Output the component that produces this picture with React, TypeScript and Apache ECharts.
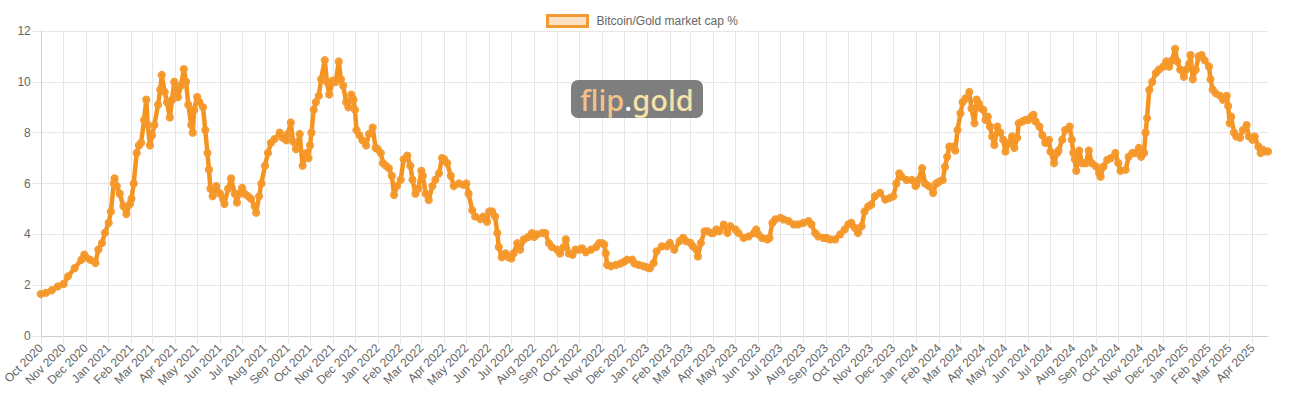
import React, { useEffect, useRef } from "react";
import * as echarts from "echarts";

const seriesName = "Bitcoin/Gold market cap %";
const startDate = "2020-10-01";
const endDate = "2025-04-22";
const monthNames = ["Jan", "Feb", "Mar", "Apr", "May", "Jun", "Jul", "Aug", "Sep", "Oct", "Nov", "Dec"];
const yMin = 0;
const yMax = 12;
const yStep = 2;

const readingDates = [
  "2020-10-01", "2020-10-08", "2020-10-16", "2020-10-24",
  "2020-11-01", "2020-11-07", "2020-11-16", "2020-11-25", "2020-11-29",
  "2020-12-01", "2020-12-07", "2020-12-14", "2020-12-18", "2020-12-23", "2020-12-27",
  "2021-01-01", "2021-01-04", "2021-01-08", "2021-01-09", "2021-01-12", "2021-01-16", "2021-01-21", "2021-01-25", "2021-01-30",
  "2021-02-01", "2021-02-04", "2021-02-08", "2021-02-11", "2021-02-14", "2021-02-18", "2021-02-21", "2021-02-23", "2021-02-26",
  "2021-03-01", "2021-03-04", "2021-03-09", "2021-03-12", "2021-03-14", "2021-03-18", "2021-03-21", "2021-03-25", "2021-03-28", "2021-03-31",
  "2021-04-01", "2021-04-05", "2021-04-09", "2021-04-13", "2021-04-16", "2021-04-19", "2021-04-23", "2021-04-25", "2021-04-27",
  "2021-05-01", "2021-05-04", "2021-05-09", "2021-05-12", "2021-05-15", "2021-05-17", "2021-05-19", "2021-05-22", "2021-05-27",
  "2021-06-01", "2021-06-05", "2021-06-07", "2021-06-12", "2021-06-16", "2021-06-21", "2021-06-24", "2021-06-27",
  "2021-07-01", "2021-07-04", "2021-07-09", "2021-07-13", "2021-07-18", "2021-07-20", "2021-07-24", "2021-07-27",
  "2021-08-01", "2021-08-05", "2021-08-09", "2021-08-14", "2021-08-21", "2021-08-25", "2021-08-30",
  "2021-09-01", "2021-09-05", "2021-09-08", "2021-09-12", "2021-09-17", "2021-09-21", "2021-09-26", "2021-09-29",
  "2021-10-01", "2021-10-03", "2021-10-06", "2021-10-09", "2021-10-13", "2021-10-16", "2021-10-21", "2021-10-24", "2021-10-27",
  "2021-11-01", "2021-11-05", "2021-11-09", "2021-11-12", "2021-11-15", "2021-11-19", "2021-11-22", "2021-11-26", "2021-11-29",
  "2021-12-01", "2021-12-03", "2021-12-07", "2021-12-11", "2021-12-16", "2021-12-20", "2021-12-25", "2021-12-29",
  "2022-01-01", "2022-01-05", "2022-01-08", "2022-01-12", "2022-01-16", "2022-01-20", "2022-01-23", "2022-01-27",
  "2022-02-01", "2022-02-05", "2022-02-10", "2022-02-14", "2022-02-17", "2022-02-21", "2022-02-25",
  "2022-03-01", "2022-03-03", "2022-03-07", "2022-03-11", "2022-03-16", "2022-03-20", "2022-03-25", "2022-03-29",
  "2022-04-01", "2022-04-05", "2022-04-10", "2022-04-14", "2022-04-21", "2022-04-27",
  "2022-05-01", "2022-05-04", "2022-05-09", "2022-05-13", "2022-05-20", "2022-05-24", "2022-05-29",
  "2022-06-01", "2022-06-05", "2022-06-09", "2022-06-12", "2022-06-14", "2022-06-18", "2022-06-23", "2022-06-27",
  "2022-07-01", "2022-07-04", "2022-07-09", "2022-07-13", "2022-07-18", "2022-07-24", "2022-07-29",
  "2022-08-01", "2022-08-05", "2022-08-12", "2022-08-16", "2022-08-21", "2022-08-25",
  "2022-09-01", "2022-09-05", "2022-09-10", "2022-09-13", "2022-09-17", "2022-09-22", "2022-09-26",
  "2022-10-01", "2022-10-05", "2022-10-10", "2022-10-17", "2022-10-24", "2022-10-28",
  "2022-11-01", "2022-11-04", "2022-11-06", "2022-11-08", "2022-11-13", "2022-11-20", "2022-11-26",
  "2022-12-01", "2022-12-05", "2022-12-12", "2022-12-15", "2022-12-21", "2022-12-27",
  "2023-01-01", "2023-01-05", "2023-01-10", "2023-01-14", "2023-01-21", "2023-01-28",
  "2023-02-01", "2023-02-07", "2023-02-14", "2023-02-19", "2023-02-23",
  "2023-03-01", "2023-03-04", "2023-03-09", "2023-03-11", "2023-03-15", "2023-03-20", "2023-03-24", "2023-03-29",
  "2023-04-01", "2023-04-05", "2023-04-09", "2023-04-15", "2023-04-20", "2023-04-24",
  "2023-05-01", "2023-05-05", "2023-05-12", "2023-05-19", "2023-05-26", "2023-05-29",
  "2023-06-01", "2023-06-06", "2023-06-13", "2023-06-16", "2023-06-20", "2023-06-24",
  "2023-07-01", "2023-07-05", "2023-07-12", "2023-07-19", "2023-07-25",
  "2023-08-01", "2023-08-08", "2023-08-12", "2023-08-17", "2023-08-21", "2023-08-28",
  "2023-09-01", "2023-09-06", "2023-09-13", "2023-09-20", "2023-09-26",
  "2023-10-01", "2023-10-05", "2023-10-10", "2023-10-14", "2023-10-19", "2023-10-23", "2023-10-28",
  "2023-11-01", "2023-11-06", "2023-11-13", "2023-11-20", "2023-11-26",
  "2023-12-01", "2023-12-05", "2023-12-09", "2023-12-12", "2023-12-19", "2023-12-26", "2023-12-31",
  "2024-01-01", "2024-01-04", "2024-01-09", "2024-01-13", "2024-01-18", "2024-01-24", "2024-01-28",
  "2024-02-01", "2024-02-06", "2024-02-09", "2024-02-12", "2024-02-15", "2024-02-20", "2024-02-23", "2024-02-26",
  "2024-03-01", "2024-03-04", "2024-03-08", "2024-03-13", "2024-03-16", "2024-03-20", "2024-03-23", "2024-03-26", "2024-03-29",
  "2024-04-01", "2024-04-04", "2024-04-07", "2024-04-10", "2024-04-13", "2024-04-16", "2024-04-20", "2024-04-24", "2024-04-28",
  "2024-05-01", "2024-05-06", "2024-05-10", "2024-05-13", "2024-05-17", "2024-05-19", "2024-05-24", "2024-05-28",
  "2024-06-01", "2024-06-05", "2024-06-08", "2024-06-11", "2024-06-16", "2024-06-20", "2024-06-24", "2024-06-29",
  "2024-07-01", "2024-07-06", "2024-07-10", "2024-07-12", "2024-07-17", "2024-07-21", "2024-07-27", "2024-07-30",
  "2024-08-01", "2024-08-03", "2024-08-05", "2024-08-09", "2024-08-13", "2024-08-18", "2024-08-22", "2024-08-26",
  "2024-09-01", "2024-09-05", "2024-09-07", "2024-09-11", "2024-09-16", "2024-09-21", "2024-09-27",
  "2024-10-01", "2024-10-04", "2024-10-11", "2024-10-15", "2024-10-20", "2024-10-24", "2024-10-29",
  "2024-11-01", "2024-11-05", "2024-11-07", "2024-11-09", "2024-11-12", "2024-11-16", "2024-11-21", "2024-11-25",
  "2024-12-01", "2024-12-05", "2024-12-09", "2024-12-13", "2024-12-17", "2024-12-20", "2024-12-24", "2024-12-29",
  "2025-01-01", "2025-01-05", "2025-01-07", "2025-01-10", "2025-01-14", "2025-01-18", "2025-01-22", "2025-01-26",
  "2025-02-01", "2025-02-03", "2025-02-06", "2025-02-10", "2025-02-16", "2025-02-20", "2025-02-25", "2025-02-27",
  "2025-03-01", "2025-03-03", "2025-03-07", "2025-03-10", "2025-03-15", "2025-03-19", "2025-03-24", "2025-03-27",
  "2025-04-01", "2025-04-04", "2025-04-09", "2025-04-12", "2025-04-15", "2025-04-18", "2025-04-22",
];

const ratioValues = [
  1.65, 1.7, 1.8, 1.95,
  2.05, 2.35, 2.67, 3.0, 3.2,
  3.1, 3.0, 2.87, 3.4, 3.66, 4.06,
  4.45, 4.9, 6.0, 6.2, 5.9, 5.6, 5.1, 4.8, 5.2,
  5.4, 6.0, 7.2, 7.5, 7.6, 8.5, 9.3, 8.3, 7.5,
  7.9, 8.3, 9.1, 9.7, 10.27, 9.6, 9.2, 8.6, 9.3, 10.0,
  9.7, 9.4, 9.85, 10.5, 10.0, 9.1, 8.3, 8.0, 8.9,
  9.4, 9.2, 9.0, 8.1, 7.2, 6.55, 5.8, 5.5, 5.9,
  5.6, 5.4, 5.2, 5.8, 6.2, 5.6, 5.25, 5.6,
  5.83, 5.6, 5.5, 5.4, 5.1, 4.85, 5.5, 6.0,
  6.7, 7.2, 7.6, 7.75, 8.0, 7.8, 7.7,
  7.95, 8.4, 7.65, 7.35, 7.95, 6.7, 7.2, 7.0,
  7.5, 8.0, 8.9, 9.2, 9.45, 10.1, 10.85, 10.0, 9.5,
  10.05, 10.0, 10.8, 10.1, 9.85, 9.2, 9.0, 9.5, 9.3,
  8.9, 8.1, 7.9, 7.7, 7.5, 7.95, 8.2, 7.4,
  7.35, 7.2, 6.8, 6.7, 6.6, 6.3, 5.55, 5.9,
  6.15, 6.95, 7.1, 6.7, 6.15, 5.6, 5.8,
  6.5, 6.3, 5.6, 5.35, 5.9, 6.15, 6.4, 7.0,
  6.95, 6.8, 6.3, 5.9, 6.0, 5.95,
  6.0, 5.6, 4.95, 4.7, 4.6, 4.7, 4.5,
  4.9, 4.9, 4.7, 4.05, 3.5, 3.1, 3.25, 3.1,
  3.05, 3.25, 3.65, 3.4, 3.8, 3.9, 4.05,
  3.9, 4.0, 4.05, 4.05, 3.65, 3.5,
  3.4, 3.25, 3.5, 3.8, 3.25, 3.2, 3.4,
  3.4, 3.45, 3.3, 3.4, 3.5, 3.65,
  3.65, 3.6, 3.25, 2.8, 2.75, 2.8, 2.85,
  2.92, 3.0, 3.0, 2.85, 2.8, 2.75,
  2.7, 2.67, 2.87, 3.33, 3.53, 3.53,
  3.66, 3.4, 3.73, 3.86, 3.73,
  3.66, 3.53, 3.4, 3.13, 3.66, 4.12, 4.12, 4.05,
  4.05, 4.19, 4.12, 4.38, 4.05, 4.32,
  4.19, 4.05, 3.86, 3.92, 4.05, 4.19,
  4.0, 3.86, 3.8, 3.86, 4.45, 4.59,
  4.65, 4.59, 4.52, 4.39, 4.39,
  4.45, 4.52, 4.39, 4.05, 3.92, 3.86,
  3.86, 3.8, 3.8, 4.0, 4.19,
  4.39, 4.45, 4.25, 4.05, 4.32, 4.9, 5.1,
  5.17, 5.5, 5.63, 5.37, 5.43,
  5.5, 6.0, 6.4, 6.27, 6.14, 6.14, 5.9,
  5.95, 6.14, 6.6, 6.0, 5.9, 5.63, 6.0,
  6.07, 6.14, 6.66, 7.05, 7.45, 7.45, 7.3, 8.1,
  8.76, 9.2, 9.35, 9.6, 8.95, 8.37, 9.3, 9.15, 8.95,
  8.9, 8.5, 8.63, 8.24, 7.85, 7.52, 8.24, 8.0, 7.72,
  7.26, 7.6, 7.85, 7.4, 7.8, 8.37, 8.44, 8.5,
  8.5, 8.63, 8.7, 8.44, 8.24, 7.9, 7.6, 7.72,
  7.26, 6.8, 7.2, 7.3, 7.72, 8.1, 8.24, 7.72,
  7.2, 6.95, 6.5, 7.3, 6.8, 6.8, 7.3, 6.8,
  6.67, 6.4, 6.27, 6.67, 6.93, 7.0, 7.2,
  6.8, 6.5, 6.54, 7.05, 7.2, 7.2, 7.4,
  7.05, 7.2, 8.0, 8.57, 9.68, 10.0, 10.35, 10.48,
  10.6, 10.8, 10.6, 10.85, 11.3, 10.8, 10.48, 10.2,
  10.48, 10.7, 11.05, 10.1, 10.48, 11.0, 11.05, 10.85,
  10.6, 10.1, 9.7, 9.55, 9.45, 9.3, 9.45, 9.05,
  8.37, 8.63, 8.0, 7.85, 7.8, 8.1, 8.3, 7.85,
  7.72, 7.85, 7.45, 7.2, 7.33, 7.26, 7.26,
];

function buildDayCategories(): string[] {
  const out: string[] = [];
  const [sy, sm, sd] = startDate.split("-").map(Number);
  const [ey, em, ed] = endDate.split("-").map(Number);
  const end = Date.UTC(ey, em - 1, ed);
  for (let t = Date.UTC(sy, sm - 1, sd); t <= end; t += 86400000) {
    out.push(new Date(t).toISOString().slice(0, 10));
  }
  return out;
}

const isMonthStart = (_i: number, v: string) => typeof v === "string" && v.endsWith("-01");
const monthLabel = (v: string) => {
  const [y, m] = v.split("-");
  return monthNames[Number(m) - 1] + " " + y;
};

export default function App() {
  const ref = useRef<HTMLDivElement>(null);

  useEffect(() => {
    document.body.style.margin = "0";
    if (!ref.current) return;
    const chart = echarts.init(ref.current, null, { renderer: "svg" });
    const categories = buildDayCategories();
    const lookup = new Map<string, number>();
    readingDates.forEach((d, i) => lookup.set(d, ratioValues[i]));
    const seriesData = categories.map((c) => (lookup.has(c) ? lookup.get(c)! : null));

    const font = "'Liberation Sans', Arial, Helvetica, sans-serif";
    const logoFont = "'Noto Sans', 'Open Sans', sans-serif";
    const gridColor = "#e6e6e6";

    chart.setOption({
      animation: false,
      backgroundColor: "#ffffff",
      textStyle: { fontFamily: font },
      legend: {
        left: 541,
        top: 9,
        icon: "rect",
        itemWidth: 40,
        itemHeight: 11,
        itemStyle: { color: "#fde1c3", borderColor: "#f39a35", borderWidth: 3 },
        textStyle: { color: "#666666", fontSize: 12, fontFamily: font, padding: [0, 0, 0, 4] },
        data: [{ name: seriesName, icon: "rect" }],
      },
      grid: { left: 35, right: 38, top: 31, bottom: 63, containLabel: false },
      xAxis: {
        type: "category",
        data: categories,
        boundaryGap: false,
        axisLine: { show: true, lineStyle: { color: "#cfcfcf", width: 1 } },
        axisTick: { show: true, length: 8, interval: isMonthStart, lineStyle: { color: gridColor } },
        axisLabel: {
          interval: isMonthStart,
          rotate: 45,
          formatter: monthLabel,
          color: "#666666",
          fontSize: 12,
          fontFamily: font,
          margin: 10,
        },
        splitLine: { show: true, interval: isMonthStart, lineStyle: { color: gridColor, width: 1 } },
      },
      yAxis: {
        type: "value",
        min: yMin,
        max: yMax,
        interval: yStep,
        axisLine: { show: true, lineStyle: { color: "#cfcfcf", width: 1 } },
        axisTick: { show: true, length: 8, lineStyle: { color: gridColor } },
        axisLabel: { color: "#666666", fontSize: 12, fontFamily: font, margin: 10 },
        splitLine: { show: true, lineStyle: { color: gridColor, width: 1 } },
      },
      series: [
        {
          name: seriesName,
          type: "line",
          data: seriesData,
          connectNulls: true,
          showSymbol: true,
          showAllSymbol: true,
          symbol: "circle",
          symbolSize: 7,
          lineStyle: { color: "#f5931f", width: 4.5, join: "round", cap: "round" },
          itemStyle: { color: "rgba(246,150,36,0.85)", borderColor: "#f39a35", borderWidth: 1.2 },
          emphasis: { disabled: true },
          z: 3,
        },
      ],
      graphic: [
        {
          type: "rect",
          left: 571,
          top: 80,
          z: 100,
          shape: { width: 132, height: 38, r: 7 },
          style: { fill: "rgba(115,115,115,0.92)" },
        },
        {
          type: "text",
          x: 637,
          y: 99,
          z: 101,
          style: {
            text: "{a|flip}{b|.}{c|gold}",
            align: "center",
            verticalAlign: "middle",
            rich: {
              a: { fill: "#f3c28a", color: "#f3c28a", fontSize: 29, fontWeight: 500, fontFamily: logoFont },
              b: { fill: "#ffffff", color: "#ffffff", fontSize: 29, fontWeight: 500, fontFamily: logoFont },
              c: { fill: "#f6e3aa", color: "#f6e3aa", fontSize: 29, fontWeight: 500, fontFamily: logoFont },
            },
          },
        },
      ],
    });

    return () => chart.dispose();
  }, []);

  return <div ref={ref} style={{ width: 1306, height: 399 }} />;
}
